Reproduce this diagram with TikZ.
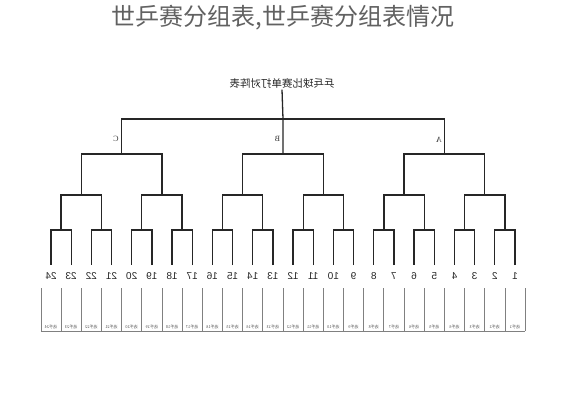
\documentclass[tikz,border=0pt]{standalone}
\usepackage{fontspec}
\setmainfont{Liberation Serif}
\setsansfont{Liberation Sans}
\newfontfamily\cjk{Noto Sans CJK SC}
\usetikzlibrary{calc}
\begin{document}
\begin{tikzpicture}[x=1pt,y=-1pt,
  bracket/.style={line width=1.3pt, black!85},
  cellline/.style={line width=0.8pt, black!50},
  numlbl/.style={font=\sffamily\fontsize{10}{10}\selectfont, text=black!85, inner sep=0pt},
  grplbl/.style={font=\fontsize{8}{8}\selectfont, text=black!80, inner sep=0pt},
  celltxt/.style={font=\cjk\fontsize{4}{4}\selectfont, text=black!65, inner sep=0pt}]
\useasboundingbox (0,0) rectangle (565,400);
\fill[white] (0,0) rectangle (565,400);
% headline
\node[font=\cjk\fontsize{24}{24}\selectfont, text=black!62] (head) at (283,18) {世乒赛分组表,世乒赛分组表情况};
% inner (mirrored) title
\node[font=\cjk\fontsize{10.5}{11}\selectfont, text=black!85, inner sep=1.5pt] (title) at (282,83) {\scalebox{-1}[1]{乒乓球比赛单打对阵表}};
% leaves, numbers, cell texts
\foreach \k in {1,...,24}{
  \pgfmathsetmacro\xx{515-(\k-1)*20.174}
  \coordinate (L\k) at (\xx,265);
  \node[numlbl] (n\k) at (\xx,276) {\scalebox{-1}[1]{\k}};
  \node[celltxt] (c\k) at (\xx,326.5) {\scalebox{-1}[1]{选手\k}};
}
% pair joins
\foreach \j in {1,...,12}{
  \pgfmathsetmacro\xx{515-(2*\j-1.5)*20.174}
  \coordinate (P\j) at (\xx,230);
}
\foreach \m in {1,...,6}{
  \pgfmathsetmacro\xx{515-(4*\m-2.5)*20.174}
  \coordinate (Q\m) at (\xx,195);
}
\foreach \g in {1,2,3}{
  \pgfmathsetmacro\xx{515-(8*\g-4.5)*20.174}
  \coordinate (G\g) at (\xx,154);
}
\coordinate (T) at (283,119);
% brackets
\foreach \j in {1,...,12}{
  \pgfmathtruncatemacro\a{2*\j-1}
  \pgfmathtruncatemacro\b{2*\j}
  \draw[bracket] (L\a) |- (P\j) -| (L\b);
}
\foreach \m in {1,...,6}{
  \pgfmathtruncatemacro\a{2*\m-1}
  \pgfmathtruncatemacro\b{2*\m}
  \draw[bracket] (P\a) |- (Q\m) -| (P\b);
}
\foreach \g in {1,2,3}{
  \pgfmathtruncatemacro\a{2*\g-1}
  \pgfmathtruncatemacro\b{2*\g}
  \draw[bracket] (Q\a) |- (G\g) -| (Q\b);
}
\draw[bracket] (G3) |- (T) -| (G1);
\draw[bracket] (G2) -- (T);
\draw[bracket] (title.south) -- (T);
% group labels (mirrored)
\node[grplbl] (lA) at (439,140) {\scalebox{-1}[1]{A}};
\node[grplbl] (lB) at (277.5,139) {\scalebox{-1}[1]{B}};
\node[grplbl] (lC) at (116,139) {\scalebox{-1}[1]{C}};
% bottom table
\foreach \i in {0,...,24}{
  \pgfmathsetmacro\xx{525.1-\i*20.174}
  \draw[cellline] (\xx,288) -- (\xx,331);
}
\draw[cellline] (40.9,331) -- (525.1,331);
\end{tikzpicture}
\end{document}
